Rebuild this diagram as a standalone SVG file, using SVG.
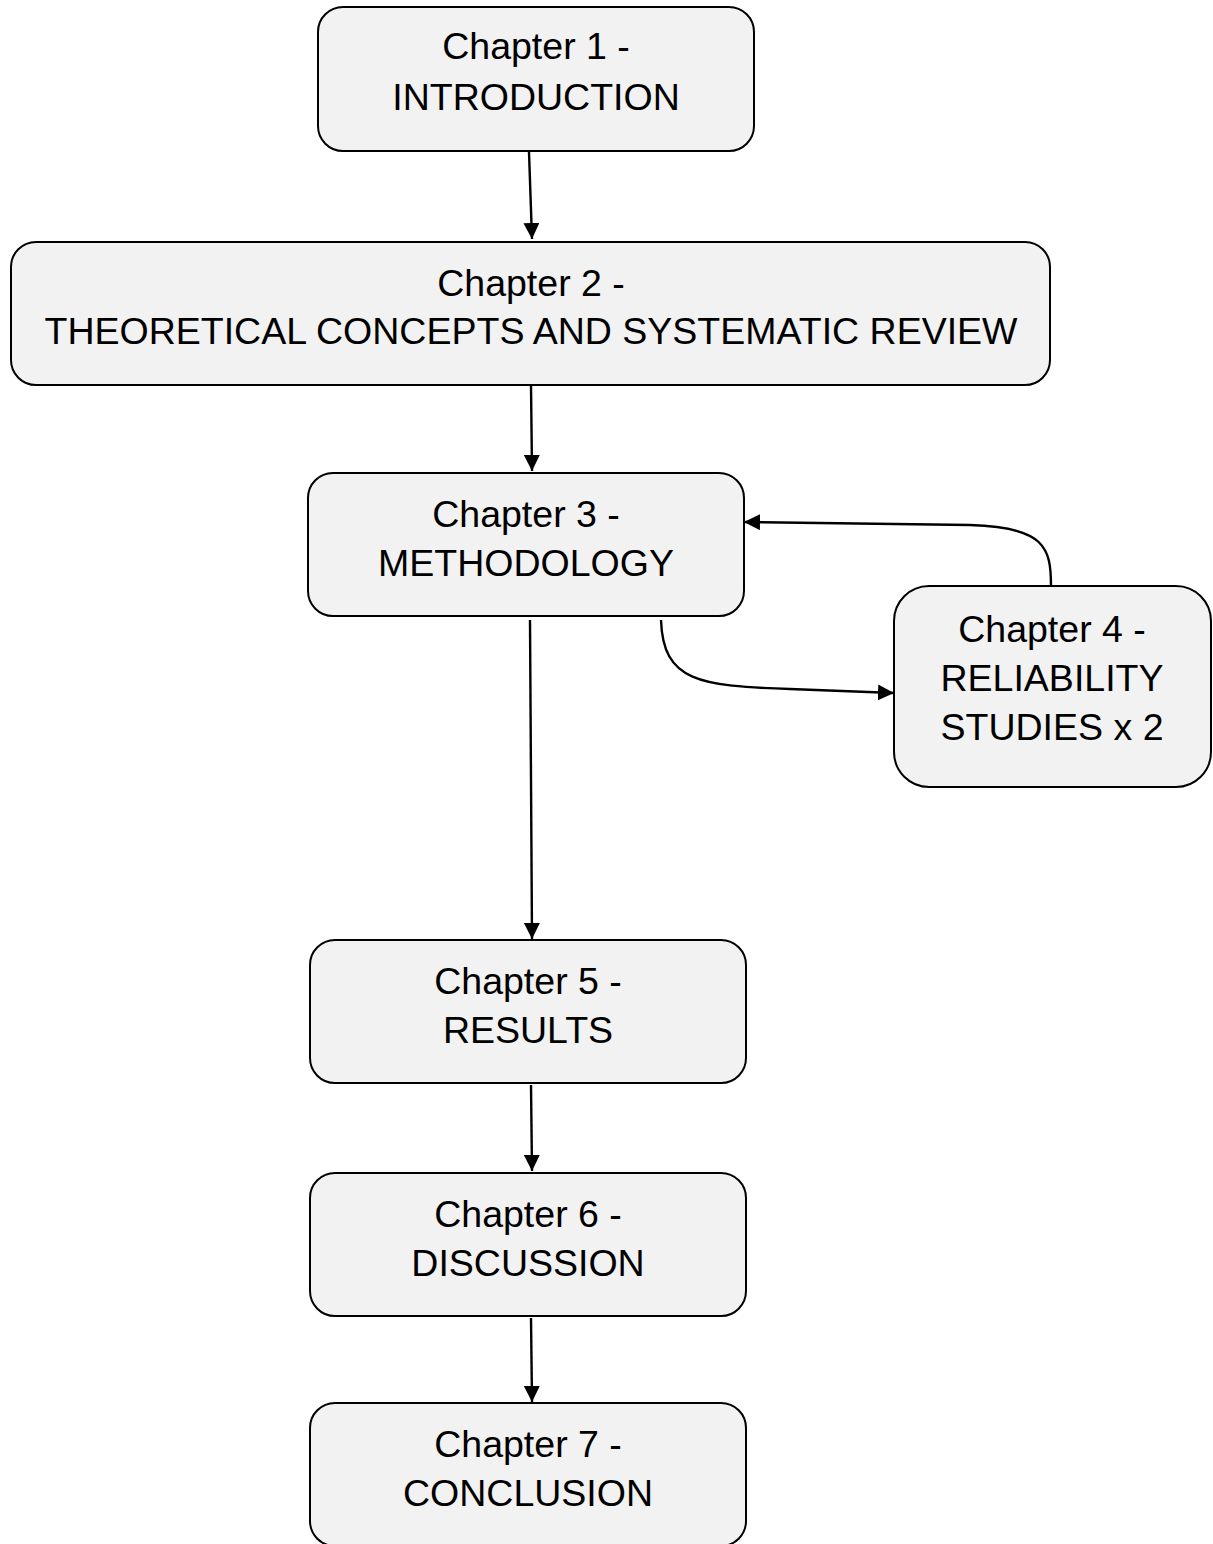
<svg xmlns="http://www.w3.org/2000/svg" width="1213" height="1544" viewBox="0 0 1213 1544">
<style>
.box{fill:#f2f2f2;stroke:#000;stroke-width:2}
.t{font-family:"Liberation Sans",Arial,sans-serif;font-size:37.5px;fill:#000;text-anchor:middle}
.c{fill:none;stroke:#000;stroke-width:2.4}
</style>
<defs>
<marker id="ah" markerUnits="userSpaceOnUse" markerWidth="18" markerHeight="18" refX="16" refY="8" orient="auto">
<path d="M0,0 L16,8 L0,16 Z" fill="#000"/>
</marker>
</defs>
<rect width="1213" height="1544" fill="#fff"/>
<g id="connectors">
<path class="c" d="M529,152 L532,239" marker-end="url(#ah)"/>
<path class="c" d="M531,385 L532,471" marker-end="url(#ah)"/>
<path class="c" d="M530,620 L532,939" marker-end="url(#ah)"/>
<path class="c" d="M531,1085 L532,1171" marker-end="url(#ah)"/>
<path class="c" d="M531,1318 L532,1402" marker-end="url(#ah)"/>
<path class="c" d="M661,620 C663,682 700,686 790,689 L894,693" marker-end="url(#ah)"/>
<path class="c" d="M1051,586 C1051,548 1045,527 970,525 L744,522" marker-end="url(#ah)"/>
</g>
<g id="n1"><rect class="box" x="318" y="7" width="436" height="144" rx="25"/>
<text class="t" x="536" y="59">Chapter 1 -</text><text class="t" x="536" y="110">INTRODUCTION</text></g>
<g id="n2"><rect class="box" x="11" y="242" width="1039" height="143" rx="25"/>
<text class="t" x="531" y="296">Chapter 2 -</text><text class="t" x="531" y="344">THEORETICAL CONCEPTS AND SYSTEMATIC REVIEW</text></g>
<g id="n3"><rect class="box" x="308" y="473" width="436" height="143" rx="25"/>
<text class="t" x="526" y="527">Chapter 3 -</text><text class="t" x="526" y="576">METHODOLOGY</text></g>
<g id="n4"><rect class="box" x="894" y="586" width="317" height="201" rx="35"/>
<text class="t" x="1052" y="642">Chapter 4 -</text><text class="t" x="1052" y="691">RELIABILITY</text><text class="t" x="1052" y="740">STUDIES x 2</text></g>
<g id="n5"><rect class="box" x="310" y="940" width="436" height="143" rx="25"/>
<text class="t" x="528" y="994">Chapter 5 -</text><text class="t" x="528" y="1043">RESULTS</text></g>
<g id="n6"><rect class="box" x="310" y="1173" width="436" height="143" rx="25"/>
<text class="t" x="528" y="1227">Chapter 6 -</text><text class="t" x="528" y="1276">DISCUSSION</text></g>
<g id="n7"><rect class="box" x="310" y="1403" width="436" height="143" rx="25"/>
<text class="t" x="528" y="1457">Chapter 7 -</text><text class="t" x="528" y="1506">CONCLUSION</text></g>
</svg>
